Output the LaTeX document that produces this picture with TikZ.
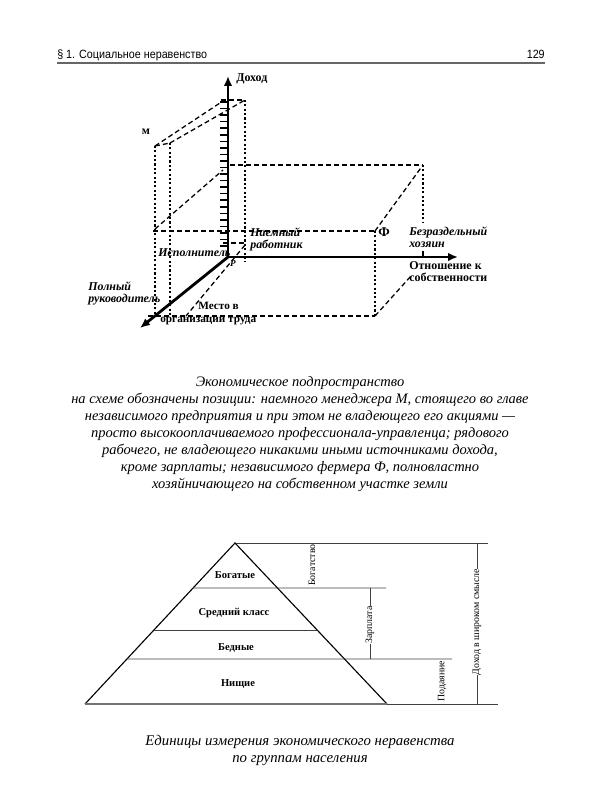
\documentclass[tikz,border=0pt]{standalone}
\usepackage{fontspec}
\setmainfont{Liberation Serif}
\setsansfont{Liberation Sans}
\usetikzlibrary{arrows.meta,positioning,calc}

\begin{document}
\begin{tikzpicture}[
  x=0.25mm, y=-0.25mm,
  axis/.style={line width=2pt, -{Latex[length=7pt,width=6pt]}},
  dashln/.style={line width=0.9pt, dash pattern=on 3.5pt off 2.2pt},
  dotln/.style={line width=1.5pt, dash pattern=on 1.5pt off 1.6pt},
  rule/.style={line width=0.5pt, black!75},
  lbl/.style={inner sep=0pt, align=left, font=\fontsize{8.5}{8.5}\selectfont\bfseries},
  ilbl/.style={inner sep=0pt, align=left, font=\fontsize{8.5}{8.5}\selectfont\bfseries\itshape},
  caption/.style={inner sep=0pt, align=center, font=\fontsize{10.3}{12.1}\selectfont\itshape},
  tier/.style={inner sep=0pt, font=\fontsize{7.5}{8}\selectfont\bfseries},
  side/.style={inner sep=0pt, rotate=90, font=\fontsize{7}{7}\selectfont}
]
\useasboundingbox (0,0) rectangle (600,800);

\node[anchor=base west, inner sep=0pt, font=\sffamily\fontsize{8.5}{9}\selectfont] (head) at (57,58) {\scalebox{0.9}[1]{\S\ 1. Социальное неравенство}};
\node[anchor=base east, inner sep=0pt, font=\sffamily\fontsize{8.5}{9}\selectfont] (page) at (545,58) {\scalebox{0.9}[1]{129}};
\draw[line width=1.3pt, black!60] (57,63) -- (545,63);

\coordinate (O) at (228,257);
\coordinate (Ytop) at (228,76);
\coordinate (Xend) at (458,257);
\coordinate (Zend) at (140,328);

\draw[dashln] (155,146) -- (170,143);
\draw[dashln] (155,146) -- (223,101);
\draw[dashln] (170,143) -- (245,100);
\draw[dashln] (221,100) -- (245,100);
\draw[dashln] (155,229) -- (223,170);
\draw[dashln] (230,165) -- (423,165);
\draw[dashln] (153,231) -- (375,231);
\draw[dashln] (148,316) -- (375,316);
\draw[dashln] (223,243) -- (245,243);
\draw[dashln] (245,245) -- (186,316);
\draw[dashln] (375,231) -- (423,165);
\draw[dashln] (375,316) -- (411,276);
\draw[dotln] (155,146) -- (155,316);
\draw[dotln] (170,143) -- (170,316);
\draw[dotln] (245,100) -- (245,262);
\draw[dotln] (375,231) -- (375,316);
\draw[dotln] (423,165) -- (423,223);
\draw[line width=1pt] (423,251) -- (423,257);

\foreach \t in {0,...,22}
  \draw[line width=1.1pt] (220,102+\t*6.55) -- (228,102+\t*6.55);
\draw[axis] (O) -- (Ytop);
\draw[axis] (O) -- (Xend);
\draw[axis] (O) -- (Zend);

\node[lbl, anchor=west] (income) at (236,79) {Доход};
\node[lbl] (mgr) at (146,132) {м};
\node[ilbl, anchor=north west] (hired) at (250,228) {Наемный\\работник};
\node[ilbl, anchor=west] (exec) at (158,253) {Исполнитель};
\node[ilbl, anchor=north west] (fullboss) at (88,282) {Полный\\руководитель};
\node[lbl, anchor=west, font=\fontsize{8}{8}\selectfont\bfseries] (place) at (198,306) {Место в};
\node[lbl, anchor=west, font=\fontsize{8}{8}\selectfont\bfseries] (place2) at (160,321) {организации труда};
\node[lbl, font=\fontsize{9.5}{9.5}\selectfont\bfseries] (farmer) at (384,232) {Ф};
\node[ilbl, font=\fontsize{6.5}{6.5}\selectfont\bfseries\itshape] (worker) at (233,264) {Р};
\node[ilbl, anchor=north west] (owner) at (409,227) {Безраздельный\\хозяин};
\node[lbl, anchor=north west] (property) at (409,261) {Отношение к\\собственности};

\node[caption] (cap1) at (300,434) {Экономическое подпространство\\
на схеме обозначены позиции: наемного менеджера М, стоящего во главе\\
независимого предприятия и при этом не владеющего его акциями~—\\
просто высокооплачиваемого профессионала-управленца; рядового\\
рабочего, не владеющего никакими иными источниками дохода,\\
кроме зарплаты; независимого фермера Ф, полновластно\\
хозяйничающего на собственном участке земли};

\coordinate (A) at (235,543);
\coordinate (BL) at (85,704);
\coordinate (BR) at (387,704);
\draw[rule] (A) -- (488,543);
\draw[line width=0.8pt] (BL) -- (A) -- (BR);
\draw[rule] ($(A)!0.28!(BL)$) -- (386,588);
\draw[rule] ($(A)!0.54!(BL)$) -- ($(A)!0.54!(BR)$);
\draw[rule] ($(A)!0.72!(BL)$) -- (452,659);
\draw[line width=1.6pt, black!55] (BL) -- (BR);
\draw[rule] (BR) -- (498,704);

\node[tier] (rich) at (235,575) {Богатые};
\node[tier] (middle) at (234,613) {Средний класс};
\node[tier] (poor) at (236,648) {Бедные};
\node[tier] (destitute) at (238,684) {Нищие};

\node[side] (wealth) at (312,565) {Богатство};
\node[side] (wage) at (370,625) {Зарплата};
\draw[rule] (370,588) -- (wage.east);
\draw[rule] (wage.west) -- (370,659);
\node[side] (alms) at (442,681) {Подаяние};
\node[side] (broad) at (477,622) {Доход в широком смысле};
\draw[rule] (477,543) -- (broad.east);
\draw[rule] (broad.west) -- (477,704);

\node[caption, font=\fontsize{10.5}{12.1}\selectfont\itshape] (cap2) at (300,750) {Единицы измерения экономического неравенства\\
по группам населения};
\end{tikzpicture}
\end{document}
